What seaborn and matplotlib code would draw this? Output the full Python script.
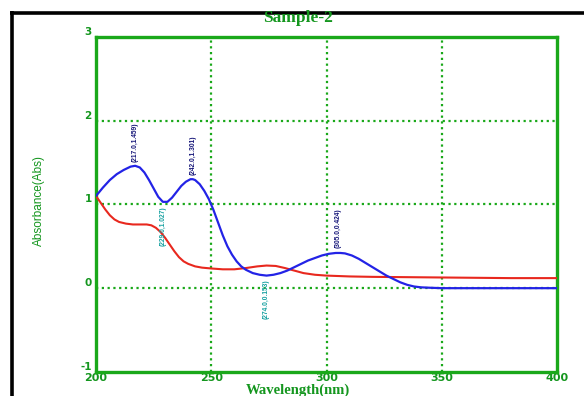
import matplotlib
matplotlib.use("Agg")
import matplotlib.pyplot as plt
import seaborn as sns
import pandas as pd
from matplotlib.lines import Line2D

# =============================================================================
# DATA
# =============================================================================
wl_blue = [200, 203, 206, 209, 212, 215, 217, 219, 221, 223, 225, 227, 229, 231,
           233, 235, 237, 239, 241, 242, 243, 245, 247, 249, 251, 253, 255, 257,
           259, 261, 263, 265, 268, 271, 274, 277, 280, 283, 286, 289, 292, 295,
           298, 301, 304, 306, 308, 311, 314, 317, 320, 323, 326, 329, 332, 335,
           338, 341, 345, 350, 360, 380, 400]
abs_blue = [1.10, 1.20, 1.29, 1.36, 1.41, 1.45, 1.46, 1.44, 1.38, 1.29, 1.19, 1.09,
            1.03, 1.03, 1.08, 1.15, 1.22, 1.27, 1.30, 1.30, 1.29, 1.24, 1.16, 1.06,
            0.93, 0.78, 0.63, 0.50, 0.40, 0.32, 0.26, 0.22, 0.18, 0.16, 0.15, 0.16,
            0.18, 0.21, 0.25, 0.29, 0.33, 0.36, 0.39, 0.41, 0.42, 0.42, 0.415, 0.39,
            0.35, 0.30, 0.25, 0.20, 0.15, 0.11, 0.07, 0.04, 0.02, 0.01, 0.005, 0.0,
            0.0, 0.0, 0.0]

wl_red = [200, 202, 204, 206, 208, 210, 213, 216, 219, 222, 224, 226, 228, 230,
          232, 234, 236, 238, 240, 243, 246, 250, 255, 260, 265, 270, 274, 278,
          282, 286, 290, 295, 300, 310, 320, 340, 360, 380, 400]
abs_red = [1.10, 1.02, 0.94, 0.87, 0.82, 0.79, 0.77, 0.76, 0.76, 0.76, 0.75, 0.72,
           0.67, 0.60, 0.52, 0.44, 0.37, 0.32, 0.29, 0.26, 0.245, 0.235, 0.225,
           0.225, 0.24, 0.26, 0.27, 0.265, 0.24, 0.21, 0.18, 0.16, 0.15, 0.14,
           0.135, 0.13, 0.125, 0.12, 0.12]

peak_wl = [217.0, 242.0, 305.0]
peak_abs = [1.459, 1.301, 0.424]
valley_wl = [229.0, 274.0]
valley_abs = [1.027, 0.153]

x_ticks = [200, 250, 300, 350, 400]
y_ticks = [-1, 0, 1, 2, 3]

# =============================================================================
# PLOTTING
# =============================================================================
GREEN = '#1aa81a'
TXT_GREEN = '#14961e'

sns.set_style("white")

fig = plt.figure(figsize=(5.84, 3.96), dpi=100)
ax = fig.add_axes([96 / 584, 1 - 372 / 396, (557 - 96) / 584, (372 - 36.7) / 396])

df_blue = pd.DataFrame({'wl': wl_blue, 'abs': abs_blue})
df_red = pd.DataFrame({'wl': wl_red, 'abs': abs_red})
sns.lineplot(data=df_red, x='wl', y='abs', ax=ax, color='#e8281e', lw=1.5, zorder=3)
sns.lineplot(data=df_blue, x='wl', y='abs', ax=ax, color='#2323e6', lw=1.6, zorder=4)

ax.set_xlim(200, 400)
ax.set_ylim(-1, 3)
ax.set_xticks(x_ticks)
ax.set_yticks(y_ticks)

# dotted grid on inner ticks only
for xv in x_ticks[1:-1]:
    ax.axvline(xv, color=GREEN, ls=(0, (1, 1.6)), lw=1.6, zorder=1)
for yv in y_ticks[1:-1]:
    ax.axhline(yv, color=GREEN, ls=(0, (1, 1.6)), lw=1.6, zorder=1)

for sp in ax.spines.values():
    sp.set_color(GREEN)
    sp.set_linewidth(2.4)

ax.tick_params(axis='both', length=0)
ax.set_xticklabels([str(v) for v in x_ticks], color=TXT_GREEN, fontsize=8,
                   fontweight='bold')
ax.tick_params(axis='x', pad=0.5)
ax.set_yticklabels([str(v) for v in y_ticks], color=TXT_GREEN, fontsize=7.5,
                   fontweight='bold', va='bottom')
ax.tick_params(axis='y', pad=3)
ax.set_xlabel('')
ax.set_ylabel('')

# titles placed in figure pixels, like the instrument printout
fig.text(298 / 584, 1 - 18 / 396, 'Sample-2', color=TXT_GREEN, fontsize=12.5,
         fontweight='bold', family='Liberation Serif', ha='center', va='center')
fig.text(298 / 584, 1 - 394 / 396, 'Wavelength(nm)', color=TXT_GREEN, fontsize=10.5,
         fontweight='bold', family='Liberation Serif', ha='center', va='baseline')
fig.text(39 / 584, 1 - 200 / 396, 'Absorbance(Abs)', color=TXT_GREEN, fontsize=8.5,
         family=['Liberation Sans Narrow', 'Liberation Sans'], rotation=90,
         ha='center', va='center')

# peak / valley annotations
for w, a in zip(peak_wl, peak_abs):
    ax.annotate(f'({w:.1f},{a:.3f})', (w, a), xytext=(0, 3), textcoords='offset points',
                rotation=90, ha='center', va='bottom', fontsize=4.8, fontweight='bold',
                color='#141478', family=['Liberation Sans Narrow', 'Liberation Sans'])
for w, a in zip(valley_wl, valley_abs):
    ax.annotate(f'({w:.1f},{a:.3f})', (w, a), xytext=(0, -3), textcoords='offset points',
                rotation=90, ha='center', va='top', fontsize=4.8, fontweight='bold',
                color='#14a0a0', family=['Liberation Sans Narrow', 'Liberation Sans'])

# black outer frame (partly cropped)
fig.add_artist(Line2D([11.5 / 584, 11.5 / 584], [0, 1 - 11.2 / 396], color='black',
                      lw=2.6, solid_capstyle='butt', transform=fig.transFigure))
fig.add_artist(Line2D([10.2 / 584, 1], [1 - 12.5 / 396, 1 - 12.5 / 396], color='black',
                      lw=2.6, solid_capstyle='butt', transform=fig.transFigure))

plt.savefig('out.png', dpi=100)
